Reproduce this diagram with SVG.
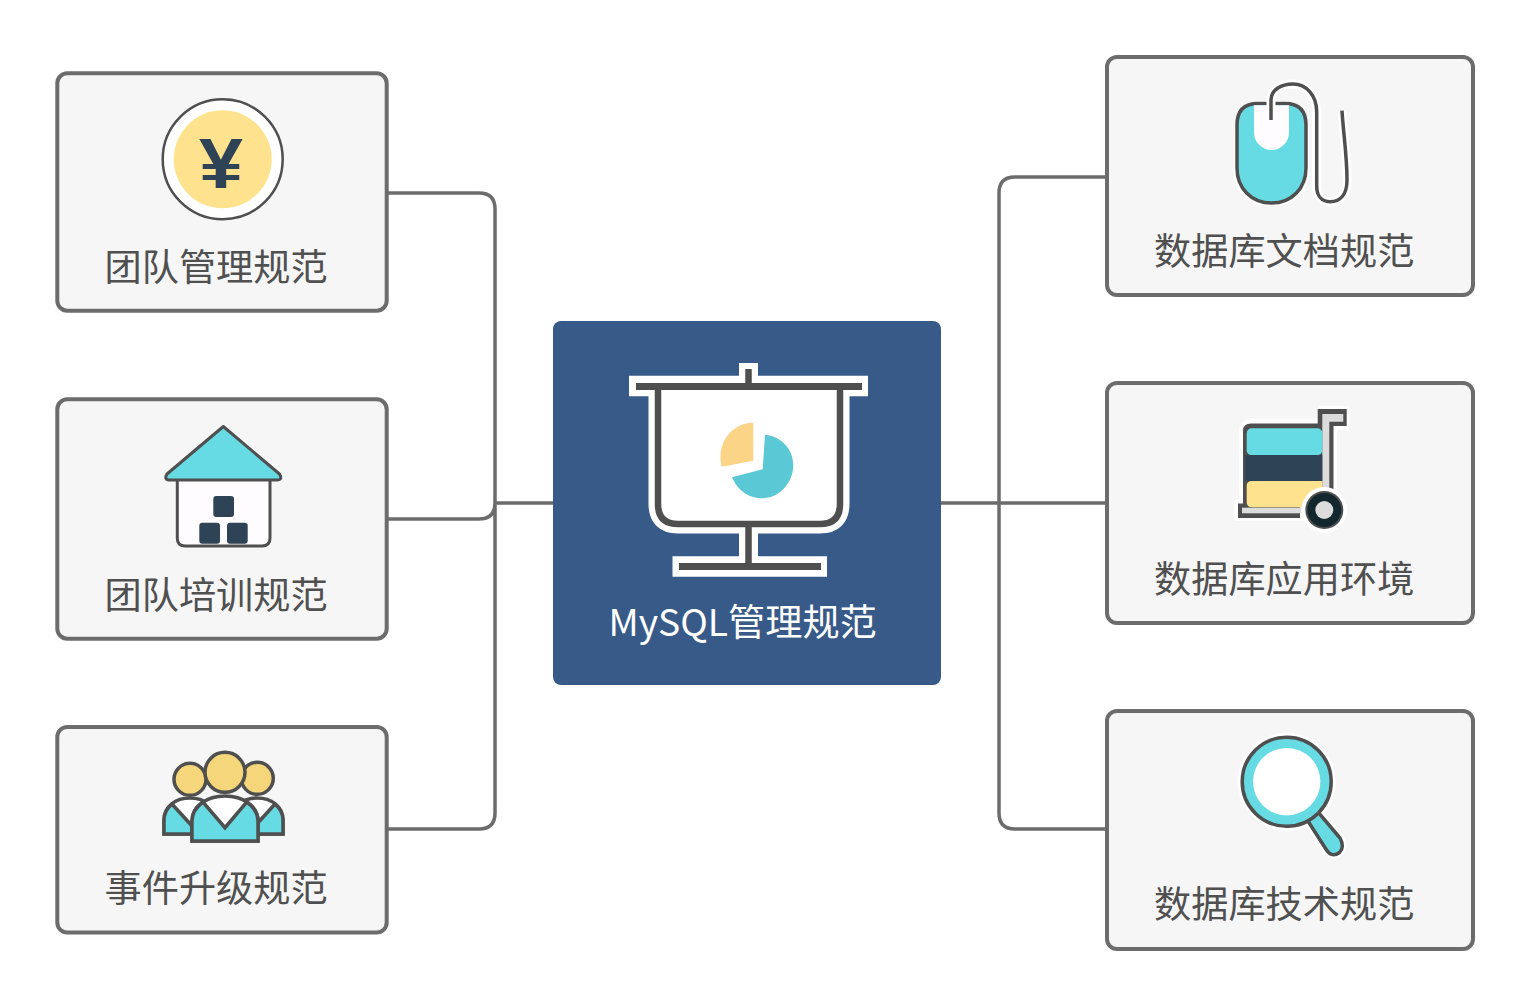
<svg xmlns="http://www.w3.org/2000/svg" width="1530" height="1004" viewBox="0 0 1530 1004">
<style>
.box{fill:#f6f6f6;stroke:#6c6c6c;stroke-width:4}
.conn{fill:none;stroke:#6c6c6c;stroke-width:3.5}
.t{font-family:"Noto Sans CJK SC","Noto Sans",sans-serif;font-size:37.2px;fill:#505050}
.w{fill:#fff;stroke:#fff;stroke-linejoin:round}
.teal{fill:#67dbe3}
.navy{fill:#2f4356}
</style>
<rect width="1530" height="1004" fill="#fff"/>
<g id="connectors" class="conn">
<path d="M387 193H479Q495 193 495 209V503M387 519H479Q495 519 495 503M387 829H479Q495 829 495 813V503M495 503H553"/>
<path d="M941 503H1107M1107 177H1015Q999 177 999 193V813Q999 829 1015 829H1107"/>
</g>
<g id="node-center">
<rect x="553" y="321" width="388" height="364" rx="8" fill="#375a88"/>
<g fill="none" stroke="#fff" stroke-width="19">
<path d="M748.500 363V386M658 386V504Q658 524 678 524H820Q840 524 840 504V386M748.500 524V566"/>
<path d="M629 386H868M672.500 566.500H827" stroke-width="20.500"/>
</g>
<path d="M658 386V504Q658 524 678 524H820Q840 524 840 504V386Z" fill="#fff"/>
<g fill="none" stroke="#4f4f4f" stroke-width="6.500">
<path d="M748.500 369V386M658 386V504Q658 524 678 524H820Q840 524 840 504V386M748.500 524V566"/>
<path d="M636 386.500H862M679 566.500H821" stroke-width="7"/>
</g>
<path d="M753.300 422.700V460.700L721.700 466.700C716 445 730 423 753.300 422.700Z" fill="#fcd488"/>
<path d="M765 434.700L762.700 469.300L732 477.300C738 492 750 498.300 762 498.300C780 498.300 793.300 482 793.300 465C793.300 449 781 436 765 434.700Z" fill="#5bc8d6"/>
<text class="t" x="608.500" y="636" style="fill:#fff">MySQL管理规范</text>
</g>
<g id="node-management">
<rect class="box" x="57.300" y="73.300" width="329.400" height="237.400" rx="10"/>
<circle cx="222.700" cy="159.300" r="60" fill="#fff" stroke="#4f4f4f" stroke-width="2.500"/>
<circle cx="222.700" cy="159.300" r="49" fill="#fee28d"/>
<text x="221" y="188" text-anchor="middle" textLength="44" lengthAdjust="spacingAndGlyphs" font-family="Liberation Sans,sans-serif" font-weight="700" font-size="70" fill="#2f4356">¥</text>
<text class="t" x="104.500" y="281">团队管理规范</text>
</g>
<g id="node-training">
<rect class="box" x="57.300" y="399.300" width="329.400" height="239.400" rx="10"/>
<path d="M177.300 479V538Q177.300 546 185 546H262Q270 546 270 538V479" fill="#fffcff" stroke="#4f4f4f" stroke-width="3"/>
<path d="M223.300 426.500L279.500 474Q283 480 277 480H170Q163.500 480 167 474Z" class="teal" stroke="#4f4f4f" stroke-width="3" stroke-linejoin="round"/>
<rect class="navy" x="213.300" y="496" width="20.700" height="21" rx="3"/>
<rect class="navy" x="199.300" y="522.700" width="20.700" height="21" rx="3"/>
<rect class="navy" x="227" y="522.700" width="20.700" height="21" rx="3"/>
<text class="t" x="104.500" y="609">团队培训规范</text>
</g>
<g id="node-incident">
<rect class="box" x="57.300" y="727" width="329.400" height="205.500" rx="10"/>
<g stroke="#4f4f4f" stroke-width="3.500">
<path d="M164 834V820C164 806 176 798 190 798C204 798 215 806 218 820V834Z" fill="#fff"/>
<path d="M164 834V820Q164 811 172 804L192 826V834Z" class="teal"/>
<path d="M283 834V820C283 806 271 798 257 798C243 798 232 806 229 820V834Z" fill="#fff"/>
<path d="M283 834V820Q283 811 275 804L255 826V834Z" class="teal"/>
<circle cx="190" cy="779.300" r="16" fill="#f6d67a"/>
<circle cx="257.300" cy="778.300" r="16" fill="#f6d67a"/>
<path d="M192 841V821C192 806 207 796 225 796C243 796 258 806 258 821V841Z" fill="#fff"/>
<path d="M192 841V821Q192 810 203 802L225 827.700L246.700 802Q258 810 258 821V841Z" class="teal"/>
<circle cx="225" cy="772.300" r="20" fill="#f6d67a"/>
</g>
<text class="t" x="104.500" y="902">事件升级规范</text>
</g>
<g id="node-docs">
<rect class="box" x="1107" y="57" width="366" height="238" rx="10"/>
<rect class="w" stroke-width="6" x="1237" y="103.500" width="69" height="99.500" rx="30"/>
<path d="M1237 125Q1237 103.500 1258 103.500H1285Q1306 103.500 1306 125V168C1306 188 1292 203 1271.500 203C1251 203 1237 188 1237 168Z" class="teal" stroke="#4f4f4f" stroke-width="3.500"/>
<path d="M1254 105.300H1289V132.500A17.500 17.500 0 0 1 1254 132.500Z" fill="#fffcff"/>
<path d="M1271 120V100C1271 90 1281 84 1293 84C1306 84 1316.700 95 1316.700 112V186C1316.700 195 1321 201.700 1330 201.700C1340 201.700 1347 195 1347 180C1347 155 1343 130 1342 110.700" fill="none" stroke="#fff" stroke-width="9"/>
<path d="M1271 120V100C1271 90 1281 84 1293 84C1306 84 1316.700 95 1316.700 112V186C1316.700 195 1321 201.700 1330 201.700C1340 201.700 1347 195 1347 180C1347 155 1343 130 1342 110.700" fill="none" stroke="#4f4f4f" stroke-width="3.500"/>
<text class="t" x="1154" y="265">数据库文档规范</text>
</g>
<g id="node-env">
<rect class="box" x="1107" y="383" width="366" height="240" rx="10"/>
<path d="M1319 410H1346V426H1333V503H1238V517H1310V503" class="w" stroke-width="8"/>
<rect class="w" stroke-width="8" x="1243" y="423" width="84" height="92" rx="8"/>
<path d="M1317.700 409H1346.700V426H1333.500V505H1300V518H1238V503.500H1243V431Q1243 423.500 1251 423.500H1317.700Z" fill="#4f4f4f"/>
<path d="M1322.300 414H1343.300V421.700H1329.300V500H1322.300Z" fill="#dcdcdc"/>
<rect x="1242" y="507.700" width="68" height="5.600" fill="#dcdcdc"/>
<rect class="teal" x="1246.700" y="428.300" width="75.600" height="27" rx="5"/>
<rect class="navy" x="1245" y="455" width="77.300" height="26"/>
<path d="M1246.700 486Q1246.700 481 1252 481H1322.300V507.300H1252Q1246.700 507.300 1246.700 502Z" fill="#fee28d"/>
<circle cx="1324.300" cy="510" r="23" fill="#fff"/>
<circle cx="1324.300" cy="510" r="19" fill="#4f4f4f"/>
<circle cx="1324.300" cy="510" r="17" fill="#12282e"/>
<circle cx="1324.300" cy="510" r="9" fill="#dcdcdc"/>
<text class="t" x="1154" y="593">数据库应用环境</text>
</g>
<g id="node-tech">
<rect class="box" x="1107" y="711" width="366" height="238" rx="10"/>
<circle cx="1286.700" cy="781.700" r="49" fill="#fff"/>
<path d="M1307.300 820L1318.300 812.300L1340 838Q1345 847 1339.500 852.500Q1332 858 1326.500 850Z" class="teal" stroke="#fff" stroke-width="8" stroke-linejoin="round"/>
<path d="M1307.300 820L1318.300 812.300L1340 838Q1345 847 1339.500 852.500Q1332 858 1326.500 850Z" class="teal" stroke="#4f4f4f" stroke-width="3.500" stroke-linejoin="round"/>
<circle cx="1286.700" cy="781.700" r="44.500" class="teal" stroke="#4f4f4f" stroke-width="3.500"/>
<circle cx="1286.700" cy="781.700" r="33.700" fill="#fff"/>
<text class="t" x="1154" y="918">数据库技术规范</text>
</g>
</svg>
